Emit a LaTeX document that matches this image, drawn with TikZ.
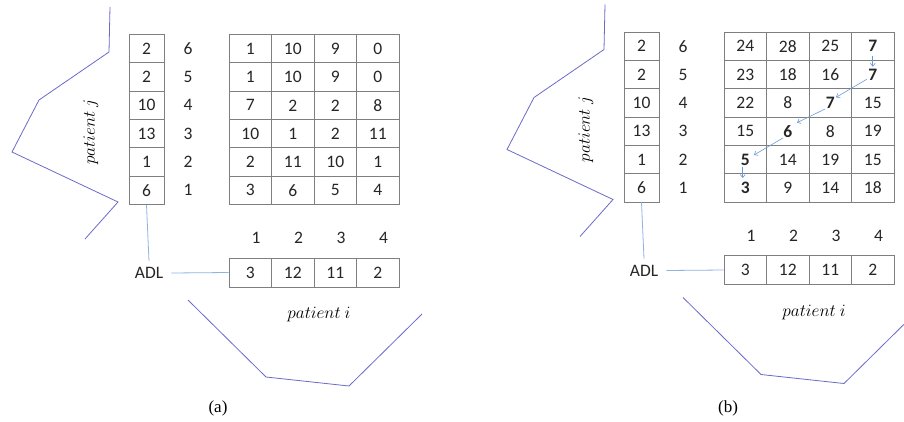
\documentclass[tikz,border=0pt]{standalone}
\usepackage{fontspec}
\setmainfont{Carlito}
\newfontfamily\capfont{Liberation Serif}
\usetikzlibrary{arrows.meta}
\definecolor{cellgray}{HTML}{7F7F7F}
\definecolor{linkblue}{HTML}{8FB4E3}
\definecolor{polyblue}{HTML}{6B6BC8}
\definecolor{arrowblue}{HTML}{6A9BD8}
\tikzset{
  cell/.style={draw=cellgray, line width=0.8pt, minimum width=42.5pt, minimum height=28.33pt,
    inner sep=0pt, font=\fontsize{17.5}{17.5}\selectfont, text=black!85},
  vcell/.style={cell, minimum width=35pt},
  bcell/.style={cell, minimum height=29pt},
  lbl/.style={font=\fontsize{17.5}{17.5}\selectfont, inner sep=0pt, text=black!85},
  adl/.style={lbl, inner xsep=8pt, inner ysep=6pt},
  link/.style={draw=linkblue, line width=0.8pt},
  outline/.style={draw=polyblue, line width=0.8pt},
  trail/.style={draw=arrowblue, line width=0.6pt, -{Straight Barb[length=3pt,width=5pt]}},
  pat/.style={font=\fontsize{18}{18}\selectfont, inner sep=0pt, text=black},
  captxt/.style={font=\capfont\fontsize{17}{17}\selectfont, inner sep=0pt},
}
\newcommand\drawpanel[2]{%
  \foreach \v [count=\i] in {2,2,10,13,1,6} {
    \pgfmathtruncatemacro\lab{7-\i}
    \node[vcell] (#1c\i) at (146.5,{34.5+28.33*\i-14.17}) {\v};
    \node[lbl] (#1l\i) at (188,{34.5+28.33*\i-14.17}) {\lab};
  }
  \foreach \row [count=\i] in {#2} {
    \foreach \v [count=\j] in \row {
      \node[cell] (#1m\i-\j) at ({229+42.5*\j-21.25},{34.5+28.33*\i-14.17}) {\v};
    }
  }
  \foreach \v [count=\j] in {3,12,11,2} {
    \node[bcell] (#1b\j) at ({229+42.5*\j-21.25},272.5) {\v};
    \node[lbl] (#1n\j) at ({229+42.5*\j-15.5},238) {\j};
  }
  \node[adl] (#1adl) at (149,273) {ADL};
  \draw[link] (#1c6.south) -- (#1adl.north);
  \draw[link] (#1adl.east) -- (#1b1.west);
  \node[pat, rotate=90] (#1pj) at (91,132) {$patient\ j$};
  \node[pat] (#1pi) at (319,315) {$patient\ i$};
}
\begin{document}
\begin{tikzpicture}[x=1pt,y=-1pt]
\useasboundingbox[fill=white] (0,0) rectangle (904,421);
% panel (a)
\drawpanel{a}{{1,10,9,0},{1,10,9,0},{7,2,2,8},{10,1,2,11},{2,11,10,1},{3,6,5,4}}
\draw[outline] (110,7) -- (109,52) -- (39,100) -- (12,152) -- (118,202) -- (85,239);
\draw[outline] (188,300) -- (266,377) -- (349,386) -- (422,314);
\node[captxt] (capa) at (218,408) {(a)};
% panel (b)
\begin{scope}[shift={(495,-2.5)}]
\drawpanel{b}{{24,28,25,\textbf{7}},{23,18,16,\textbf{7}},{22,8,\textbf{7},15},{15,\textbf{6},8,19},{\textbf{5},14,19,15},{\textbf{3},9,14,18}}
\end{scope}
\draw[trail] ([yshift=-9.5pt]bm1-4.center) -- ([yshift=7.8pt]bm2-4.center);
\draw[trail] ([xshift=-6pt,yshift=-4.8pt]bm2-4.center) -- ([xshift=5.75pt,yshift=5.5pt]bm3-3.center);
\draw[trail] ([xshift=-5.25pt,yshift=-6.2pt]bm3-3.center) -- ([xshift=9.25pt,yshift=8.5pt]bm4-2.center);
\draw[trail] ([xshift=-4.75pt,yshift=-6.8pt]bm4-2.center) -- ([xshift=8.75pt,yshift=4.5pt]bm5-1.center);
\draw[trail] ([xshift=-2.5pt,yshift=-7.2pt]bm5-1.center) -- ([xshift=-2.5pt,yshift=9.8pt]bm6-1.center);
\draw[outline] (605,4.5) -- (604,49.5) -- (534,97.5) -- (507,149.5) -- (613,199.5) -- (580,236.5);
\draw[outline] (683,297.5) -- (761,374.5) -- (844,383.5) -- (904,324.3);
\node[captxt] (capb) at (728,408) {(b)};
\end{tikzpicture}
\end{document}
